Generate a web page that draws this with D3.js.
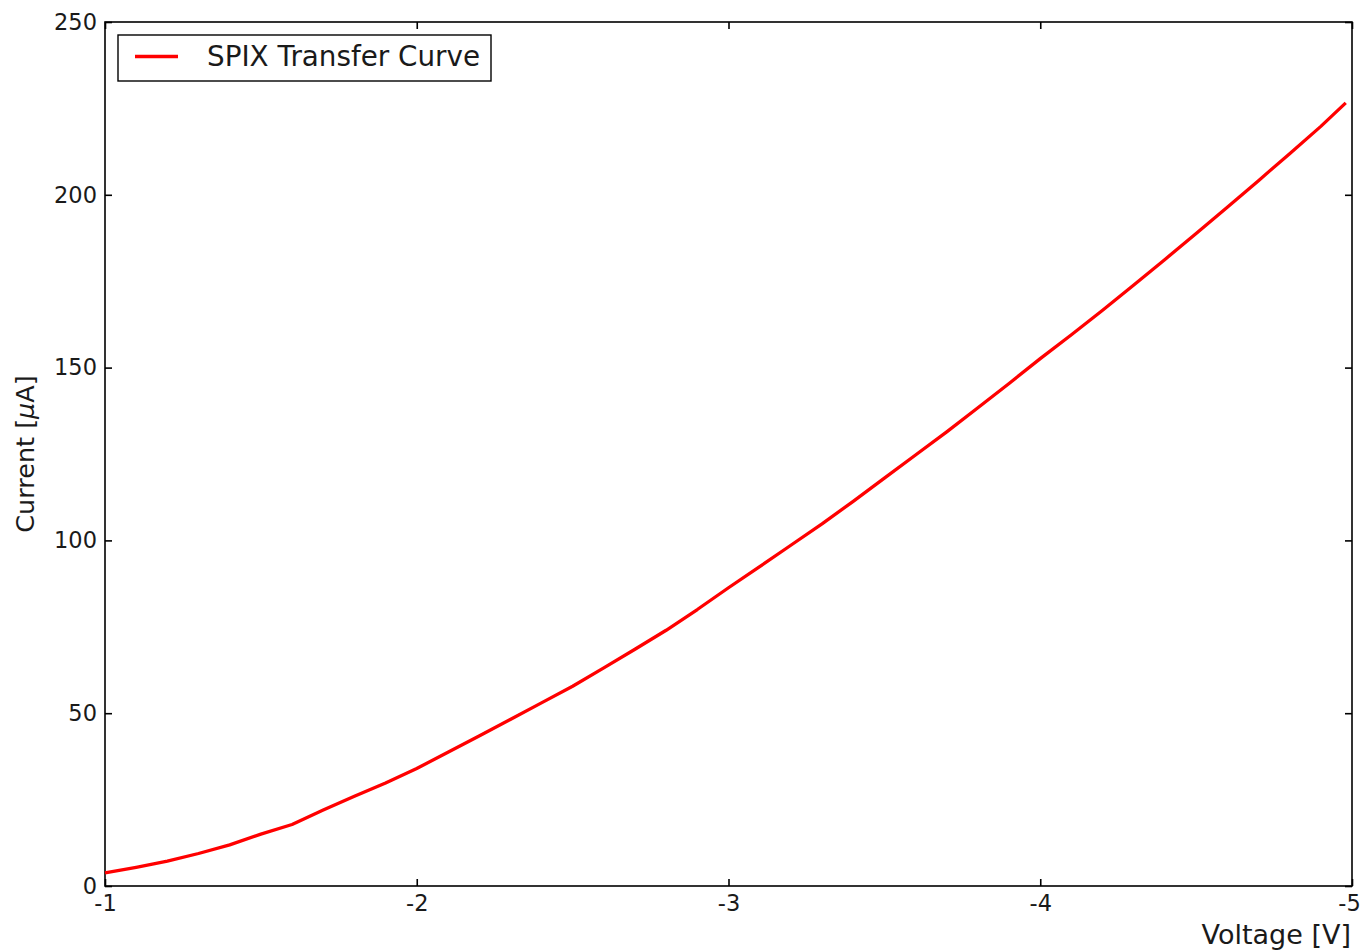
<!DOCTYPE html>
<html>
<head>
<meta charset="utf-8">
<script src="https://cdn.jsdelivr.net/npm/d3@7/dist/d3.min.js"></script>
<style>
  html, body { margin: 0; padding: 0; background: #fff; }
  svg { display: block; font-family: "DejaVu Sans", sans-serif; }
</style>
</head>
<body>
<svg id="chart" width="1362" height="950"></svg>
<script>
// Measured SPIX transfer curve: drain current vs. gate voltage
const voltages = [-1.0, -1.1, -1.2, -1.3, -1.4, -1.5, -1.6, -1.7, -1.8, -1.9,
                  -2.0, -2.1, -2.2, -2.3, -2.4, -2.5, -2.6, -2.7, -2.8, -2.9,
                  -3.0, -3.1, -3.2, -3.3, -3.4, -3.5, -3.6, -3.7, -3.8, -3.9,
                  -4.0, -4.1, -4.2, -4.3, -4.4, -4.5, -4.6, -4.7, -4.8, -4.9, -4.98];
const currents = [3.8, 5.4, 7.2, 9.4, 11.9, 15.0, 17.8, 22.0, 26.0, 29.8,
                  34.0, 38.7, 43.4, 48.2, 53.0, 57.8, 63.1, 68.5, 74.0, 80.0,
                  86.3, 92.4, 98.6, 104.8, 111.3, 118.0, 124.7, 131.4, 138.4, 145.4,
                  152.6, 159.5, 166.6, 173.9, 181.3, 188.8, 196.4, 204.1, 211.9, 219.8, 226.6];
const xTicks = [-1, -2, -3, -4, -5];
const yTicks = [0, 50, 100, 150, 200, 250];
const seriesName = "SPIX Transfer Curve";

const svg = d3.select("#chart");
const plot = { left: 105, right: 1352, top: 22, bottom: 886 };

const x = d3.scaleLinear().domain([-1, -5]).range([plot.left, plot.right]);
const y = d3.scaleLinear().domain([0, 250]).range([plot.bottom, plot.top]);

const fmt = d => String(d);
const tickLen = 7;

function styleAxis(g) {
  g.selectAll(".domain").remove();
  g.selectAll(".tick line").attr("stroke", "#000").attr("stroke-width", 1.6);
  g.selectAll(".tick text").attr("fill", "#1a1a1a").style("font-size", "22.5px")
    .style("font-family", "DejaVu Sans, sans-serif");
}

// bottom axis with labels, ticks pointing into the plot
const xAxisG = svg.append("g").attr("transform", `translate(0,${plot.bottom})`)
  .call(d3.axisBottom(x).tickValues(xTicks).tickFormat(fmt)
        .tickSizeInner(-tickLen).tickSizeOuter(0).tickPadding(9))
  .call(styleAxis);
// keep the last label inside the canvas edge
xAxisG.selectAll(".tick text").filter(d => d === -5).attr("dx", -3);

// top axis: ticks only
svg.append("g").attr("transform", `translate(0,${plot.top})`)
  .call(d3.axisTop(x).tickValues(xTicks).tickFormat("")
        .tickSizeInner(-tickLen).tickSizeOuter(0))
  .call(styleAxis);

// left axis with labels
svg.append("g").attr("transform", `translate(${plot.left},0)`)
  .call(d3.axisLeft(y).tickValues(yTicks).tickFormat(fmt)
        .tickSizeInner(-tickLen).tickSizeOuter(0).tickPadding(8))
  .call(styleAxis);

// right axis: ticks only
svg.append("g").attr("transform", `translate(${plot.right},0)`)
  .call(d3.axisRight(y).tickValues(yTicks).tickFormat("")
        .tickSizeInner(-tickLen).tickSizeOuter(0))
  .call(styleAxis);

// plot frame
svg.append("rect")
  .attr("x", plot.left).attr("y", plot.top)
  .attr("width", plot.right - plot.left).attr("height", plot.bottom - plot.top)
  .attr("fill", "none").attr("stroke", "#000").attr("stroke-width", 1.6);

// transfer curve
const pts = voltages.map((v, i) => [v, currents[i]]);
svg.append("path")
  .datum(pts)
  .attr("fill", "none")
  .attr("stroke", "#ff0000")
  .attr("stroke-width", 3.3)
  .attr("stroke-linejoin", "round")
  .attr("d", d3.line().x(d => x(d[0])).y(d => y(d[1])));

// axis titles
svg.append("text")
  .attr("x", plot.right - 1).attr("y", 944)
  .attr("text-anchor", "end")
  .style("font-size", "27px").attr("fill", "#1a1a1a")
  .text("Voltage [V]");

const yl = svg.append("text")
  .attr("transform", `translate(34,${(plot.top + plot.bottom) / 2}) rotate(-90)`)
  .attr("text-anchor", "middle")
  .style("font-size", "25.5px").attr("fill", "#1a1a1a");
yl.append("tspan").text("Current [");
yl.append("tspan").style("font-style", "italic").text("\u03bc");
yl.append("tspan").text("A]");

// legend
const lg = svg.append("g");
lg.append("rect")
  .attr("x", 118).attr("y", 35).attr("width", 373).attr("height", 46)
  .attr("fill", "#fff").attr("stroke", "#000").attr("stroke-width", 1.4);
lg.append("line")
  .attr("x1", 135).attr("x2", 178).attr("y1", 56.5).attr("y2", 56.5)
  .attr("stroke", "#ff0000").attr("stroke-width", 3.3);
lg.append("text")
  .attr("x", 207).attr("y", 66)
  .style("font-size", "27.8px").attr("fill", "#1a1a1a")
  .text(seriesName);
</script>
</body>
</html>
